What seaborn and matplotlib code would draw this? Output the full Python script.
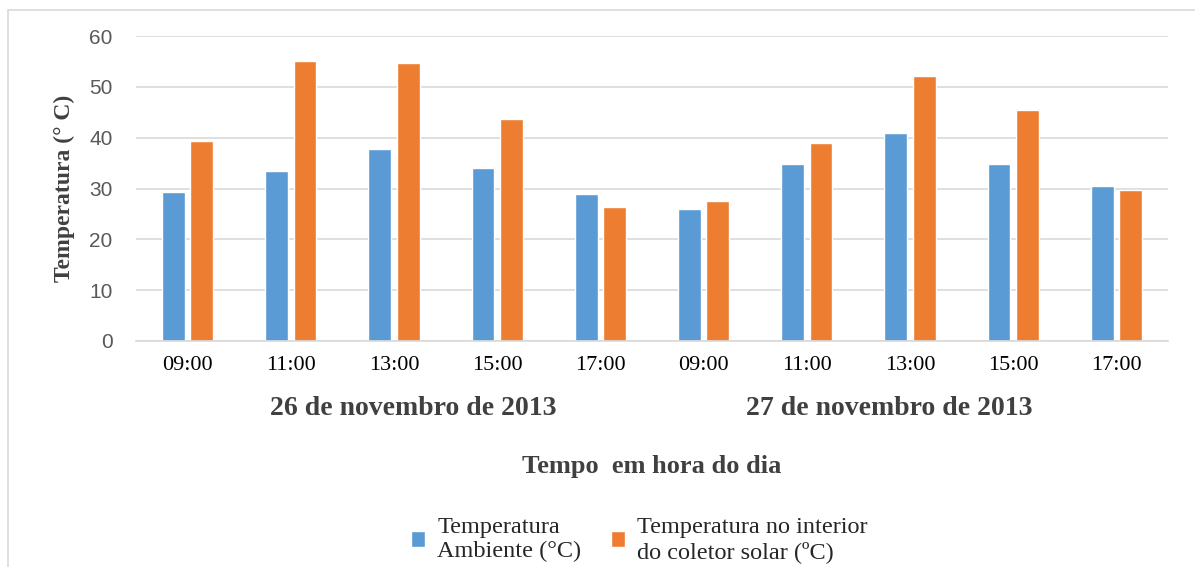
import pandas as pd
import matplotlib.pyplot as plt
import seaborn as sns
from matplotlib.patches import Rectangle

# Dados (temperaturas em °C)
horas = ['09:00', '11:00', '13:00', '15:00', '17:00']
dias = ['26 de novembro de 2013', '27 de novembro de 2013']
temp_ambiente = [29.3, 33.4, 37.7, 34.1, 29.0, 26.0, 34.9, 41.0, 34.9, 30.4]
temp_coletor = [39.3, 55.0, 54.7, 43.7, 26.4, 27.5, 38.9, 52.1, 45.5, 29.7]
serie_amb = 'Temperatura\nAmbiente (°C)'
serie_col = 'Temperatura no interior\ndo coletor solar (ºC)'

momentos = [f'{d[:2]} {h}' for d in dias for h in horas]
df = pd.DataFrame({
    'momento': momentos * 2,
    'temperatura': temp_ambiente + temp_coletor,
    'serie': [serie_amb] * len(momentos) + [serie_col] * len(momentos),
})

sns.set_theme(style='white')
plt.rcParams['font.family'] = ['Liberation Serif', 'DejaVu Serif']

azul = '#5B9BD5'
laranja = '#ED7D31'
cinza = '#D9D9D9'

fig = plt.figure(figsize=(11.95, 5.67), dpi=100)
ax = fig.add_axes([136 / 1195, 1 - 341 / 567, 1032 / 1195, 305 / 567])

sns.barplot(data=df, x='momento', y='temperatura', hue='serie',
            palette=[azul, laranja], saturation=1, width=0.55, gap=0.2,
            ax=ax)

ax.set_ylim(0, 60)
ax.set_yticks(range(0, 61, 10))
ax.yaxis.grid(True, color=cinza, lw=1.2)
ax.set_axisbelow(True)
for lado in ['top', 'right', 'left']:
    ax.spines[lado].set_visible(False)
ax.spines['bottom'].set_color(cinza)
ax.spines['bottom'].set_linewidth(1.2)

ax.tick_params(axis='y', length=0, pad=17, labelsize=15, labelcolor='#595959')
for t in ax.get_yticklabels():
    t.set_fontfamily(['Liberation Sans', 'DejaVu Sans'])
ax.set_xticks(range(len(momentos)))
ax.set_xticklabels(horas * 2)
ax.tick_params(axis='x', length=0, pad=11, labelsize=16, labelcolor='black')

ax.set_xlabel('')
ax.set_ylabel('Temperatura (° C)', fontsize=17, fontweight='bold', color='#404040', labelpad=10)

# Datas abaixo das horas
ax.text(0.269, -0.22, dias[0], transform=ax.transAxes, ha='center', va='center',
        fontsize=20, fontweight='bold', color='#404040')
ax.text(0.730, -0.22, dias[1], transform=ax.transAxes, ha='center', va='center',
        fontsize=20, fontweight='bold', color='#404040')
fig.text(652 / 1195, 1 - 467 / 567, 'Tempo  em hora do dia', ha='center', va='center',
         fontsize=19, fontweight='bold', color='#404040')

# Legenda embaixo
handles, labels = ax.get_legend_handles_labels()
ax.get_legend().remove()
fig.legend(handles, labels, loc='lower left', bbox_to_anchor=(401 / 1195, -0.01),
           ncol=2, frameon=False, fontsize=17.5, handlelength=0.6, handleheight=0.6,
           handletextpad=0.5, columnspacing=1.2, borderaxespad=0, labelspacing=0.2)

# Moldura do gráfico
fig.add_artist(Rectangle((8 / 1195, -0.1), 1.2, 1.1 - 10 / 567, transform=fig.transFigure,
                         fill=False, edgecolor=cinza, lw=1.2))

plt.savefig('out.png', dpi=100)
